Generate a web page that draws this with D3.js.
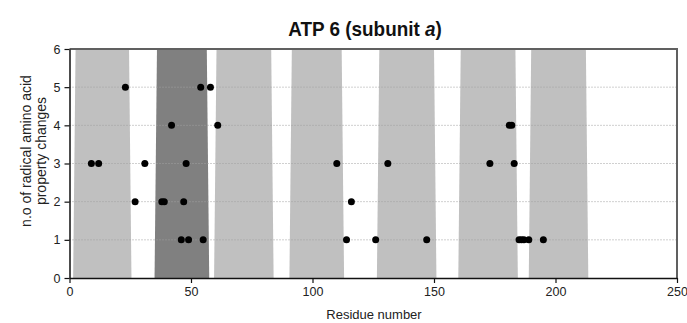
<!DOCTYPE html>
<html>
<head>
<meta charset="utf-8">
<script src="https://cdn.jsdelivr.net/npm/d3@7"></script>
<style>
  html, body { margin: 0; padding: 0; background: #fff; }
  svg { display: block; }
</style>
</head>
<body>
<svg id="chart" width="687" height="323"></svg>
<script>
// ---- data ----
const titleMain = "ATP 6 (subunit ";
const titleItalic = "a";
const xLabel = "Residue number";
const yLabelLines = ["n.o of radical amino acid", "property changes"];
const xTicks = [0, 50, 100, 150, 200, 250];
const yTicks = [0, 1, 2, 3, 4, 5, 6];

// shaded transmembrane regions (residue ranges at the base)
const bandStart = [1.5, 35, 59.5, 90.5, 126.5, 160, 189];
const bandEnd   = [25.5, 57.5, 84, 113, 151, 184.5, 213.5];
const bandDark  = [false, true, false, false, false, false, false];

// radical changes per residue
const residues = [9, 12, 23, 27, 31, 38, 39, 42, 46, 47, 48, 49, 54, 55, 58, 61,
                  110, 114, 116, 126, 131, 147, 173, 181, 182, 183, 185, 186, 187, 189, 195];
const changes  = [3, 3, 5, 2, 3, 2, 2, 4, 1, 2, 3, 1, 5, 1, 5, 4,
                  3, 1, 2, 1, 3, 1, 3, 4, 4, 3, 1, 1, 1, 1, 1];

// ---- layout ----
const L = 69.5, R = 677, T = 49, B = 278;
const taper = 1; // residues inset at top of band

const svg = d3.select("#chart");
const x = d3.scaleLinear().domain([0, 250]).range([L, R]);
const y = d3.scaleLinear().domain([0, 6]).range([B, T]);

// bands
const bands = bandStart.map((s, i) => ({s, e: bandEnd[i], dark: bandDark[i]}));
svg.append("g").selectAll("path").data(bands).join("path")
  .attr("d", d => `M${x(d.s)},${y(0)}L${x(d.s + taper)},${y(6)}L${x(d.e - taper)},${y(6)}L${x(d.e)},${y(0)}Z`)
  .attr("fill", d => d.dark ? "#808080" : "#c0c0c0");

// dotted gridlines
svg.append("g").selectAll("line").data(yTicks.filter(v => v > 0 && v < 6)).join("line")
  .attr("x1", L).attr("x2", R)
  .attr("y1", d => y(d)).attr("y2", d => y(d))
  .attr("stroke", "#a0a0a0").attr("stroke-width", 1)
  .attr("stroke-dasharray", "1,2");

// top & right border
svg.append("path")
  .attr("d", `M${L},${T}H${R}V${B}`)
  .attr("fill", "none").attr("stroke", "#606060").attr("stroke-width", 2);

// axes
const font = "'Liberation Sans', Arial, sans-serif";
const xAxis = svg.append("g").attr("transform", `translate(0,${B})`)
  .call(d3.axisBottom(x).tickValues(xTicks).tickSize(5).tickSizeOuter(0).tickPadding(4).tickFormat(d3.format("d")));
const yAxis = svg.append("g").attr("transform", `translate(${L},0)`)
  .call(d3.axisLeft(y).tickValues(yTicks).tickSize(5).tickSizeOuter(0).tickPadding(4).tickFormat(d3.format("d")));
[xAxis, yAxis].forEach(g => {
  g.select(".domain").attr("stroke", "#111").attr("stroke-width", 1.5);
  g.selectAll(".tick line").attr("stroke", "#111").attr("stroke-width", 1.2);
  g.selectAll(".tick text").attr("fill", "#222").style("font", `12.5px ${font}`);
});

// points
svg.append("g").selectAll("circle").data(residues.map((r, i) => ({r, v: changes[i]}))).join("circle")
  .attr("cx", d => x(d.r)).attr("cy", d => y(d.v)).attr("r", 3.5)
  .attr("fill", "#000");

// title
const title = svg.append("text")
  .attr("transform", "translate(365,36) scale(0.9,1)")
  .attr("text-anchor", "middle")
  .style("font", `bold 21px ${font}`).attr("fill", "#111");
title.append("tspan").text(titleMain);
title.append("tspan").text(titleItalic).style("font-style", "italic");
title.append("tspan").text(")");

// x label
svg.append("text")
  .attr("x", 374).attr("y", 319).attr("text-anchor", "middle")
  .style("font", `13px ${font}`).attr("fill", "#222").text(xLabel);

// y label
const yl = svg.append("text")
  .attr("transform", "translate(0,151) rotate(-90)")
  .attr("text-anchor", "middle")
  .style("font", `14px ${font}`).attr("fill", "#222");
yl.selectAll("tspan").data(yLabelLines).join("tspan")
  .attr("x", 0).attr("y", (d, i) => 31 + i * 15).text(d => d);
</script>
</body>
</html>
